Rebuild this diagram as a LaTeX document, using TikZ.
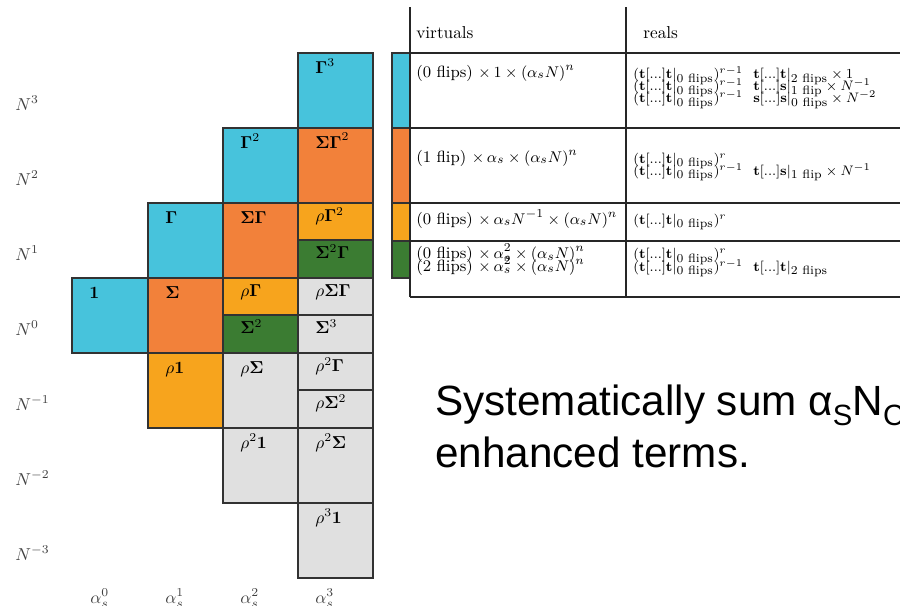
\documentclass[tikz,border=0pt]{standalone}
\usepackage{amsmath}
\usepackage[no-math]{fontspec}
\newfontfamily\arialfont{Liberation Sans}
\definecolor{cyanbox}{RGB}{71,195,220}
\definecolor{orangebox}{RGB}{242,129,58}
\definecolor{yellowbox}{RGB}{247,164,29}
\definecolor{greenbox}{RGB}{59,124,50}
\definecolor{greybox}{RGB}{224,224,224}
\definecolor{edge}{RGB}{50,50,50}
\newcommand{\flipsub}[1]{\text{\scriptsize #1}}
\newcommand{\tb}{\mathbf{t}}
\newcommand{\sbf}{\mathbf{s}}
\newcommand{\subcap}[1]{\raisebox{-6pt}{\fontsize{17}{18}\selectfont #1}}
\begin{document}
\begin{tikzpicture}[x=0.58pt,y=-0.58pt,
  cell/.style={draw=edge,line width=0.7pt},
  lbl/.style={anchor=base west,inner sep=0pt,font=\normalsize},
  axl/.style={anchor=base west,inner sep=0pt,text=black!75},
  tline/.style={draw=black!85,line width=0.6pt},
  head/.style={anchor=base west,inner sep=0pt},
  virt/.style={anchor=base west,inner sep=0pt,font=\fontsize{9.4}{11}\selectfont},
  real/.style={anchor=base west,inner sep=0pt,font=\footnotesize},
  big/.style={anchor=base west,inner sep=0pt,font=\arialfont\fontsize{24.5}{30}\selectfont}]
\useasboundingbox (0,0) rectangle (900,605);
\clip (0,0) rectangle (900,605);
% ---- grid of cells
\path[cell,fill=cyanbox] (72,278) rectangle (148,353);
\path[cell,fill=cyanbox] (148,203) rectangle (223,278);
\path[cell,fill=orangebox] (148,278) rectangle (223,353);
\path[cell,fill=yellowbox] (148,353) rectangle (223,428);
\path[cell,fill=cyanbox] (223,128) rectangle (298,203);
\path[cell,fill=orangebox] (223,203) rectangle (298,278);
\path[cell,fill=yellowbox] (223,278) rectangle (298,315);
\path[cell,fill=greenbox] (223,315) rectangle (298,353);
\path[cell,fill=greybox] (223,353) rectangle (298,428);
\path[cell,fill=greybox] (223,428) rectangle (298,503);
\path[cell,fill=cyanbox] (298,53) rectangle (373,128);
\path[cell,fill=orangebox] (298,128) rectangle (373,203);
\path[cell,fill=yellowbox] (298,203) rectangle (373,240);
\path[cell,fill=greenbox] (298,240) rectangle (373,278);
\path[cell,fill=greybox] (298,278) rectangle (373,315);
\path[cell,fill=greybox] (298,315) rectangle (373,353);
\path[cell,fill=greybox] (298,353) rectangle (373,390);
\path[cell,fill=greybox] (298,390) rectangle (373,428);
\path[cell,fill=greybox] (298,428) rectangle (373,503);
\path[cell,fill=greybox] (298,503) rectangle (373,578);
% ---- cell labels
\node[lbl] (c1) at (89,298) {$\mathbf{1}$};
\node[lbl] (cG) at (165,223) {$\mathbf{\Gamma}$};
\node[lbl] (cS) at (165,298) {$\mathbf{\Sigma}$};
\node[lbl] (cr1) at (165,373) {$\rho\mathbf{1}$};
\node[lbl] (cGG) at (240,148) {$\mathbf{\Gamma}^2$};
\node[lbl] (cSG) at (240,223) {$\mathbf{\Sigma\Gamma}$};
\node[lbl] (crG) at (240,296.5) {$\rho\mathbf{\Gamma}$};
\node[lbl] (cSS) at (240,333.5) {$\mathbf{\Sigma}^2$};
\node[lbl] (crS) at (240,373) {$\rho\mathbf{\Sigma}$};
\node[lbl] (crr1) at (240,448) {$\rho^2\mathbf{1}$};
\node[lbl] (cGGG) at (315,73) {$\mathbf{\Gamma}^3$};
\node[lbl] (cSGG) at (315,148) {$\mathbf{\Sigma\Gamma}^2$};
\node[lbl] (crGG) at (315,221.5) {$\rho\mathbf{\Gamma}^2$};
\node[lbl] (cSSG) at (315,258.5) {$\mathbf{\Sigma}^2\mathbf{\Gamma}$};
\node[lbl] (crSG) at (315,296.5) {$\rho\mathbf{\Sigma\Gamma}$};
\node[lbl] (cSSS) at (315,333.5) {$\mathbf{\Sigma}^3$};
\node[lbl] (crrG) at (315,371.5) {$\rho^2\mathbf{\Gamma}$};
\node[lbl] (crSS) at (315,408.5) {$\rho\mathbf{\Sigma}^2$};
\node[lbl] (crrS) at (315,448) {$\rho^2\mathbf{\Sigma}$};
\node[lbl] (crrr1) at (315,523) {$\rho^3\mathbf{1}$};
% ---- axis labels
\node[axl] (N3) at (15,110) {$N^3$};
\node[axl] (N2) at (15,185) {$N^2$};
\node[axl] (N1) at (15,260) {$N^1$};
\node[axl] (N0) at (15,335) {$N^0$};
\node[axl] (Nm1) at (15,410) {$N^{-1}$};
\node[axl] (Nm2) at (15,485) {$N^{-2}$};
\node[axl] (Nm3) at (15,560) {$N^{-3}$};
\node[axl] (a0) at (90,603) {$\alpha_s^0$};
\node[axl] (a1) at (165,603) {$\alpha_s^1$};
\node[axl] (a2) at (240,603) {$\alpha_s^2$};
\node[axl] (a3) at (315,603) {$\alpha_s^3$};
% ---- table colour strips
\path[cell,fill=cyanbox] (392,53) rectangle (410,128);
\path[cell,fill=orangebox] (392,128) rectangle (410,203);
\path[cell,fill=yellowbox] (392,203) rectangle (410,241);
\path[cell,fill=greenbox] (392,241) rectangle (410,278);
% ---- table rules
\draw[tline] (410,7) -- (410,297);
\draw[tline] (626,7) -- (626,297);
\draw[tline] (410,53) -- (900,53);
\draw[tline] (410,128) -- (900,128);
\draw[tline] (410,203) -- (900,203);
\draw[tline] (410,241) -- (900,241);
\draw[tline] (410,297) -- (900,297);
% ---- table text
\node[head] (hv) at (416,38) {virtuals};
\node[head] (hr) at (643,38) {reals};
\node[virt] (v1) at (416,77) {(0 flips) $\times\, 1 \times (\alpha_s N)^n$};
\node[real] (r1a) at (633,78.5) {$(\tb[...]\tb|_{\flipsub{0 flips}})^{r-1}\hspace{6pt}\tb[...]\tb|_{\flipsub{2 flips}}\times 1$};
\node[real] (r1b) at (633,90.5) {$(\tb[...]\tb|_{\flipsub{0 flips}})^{r-1}\hspace{6pt}\tb[...]\sbf|_{\flipsub{1 flip}}\times N^{-1}$};
\node[real] (r1c) at (633,102.5) {$(\tb[...]\tb|_{\flipsub{0 flips}})^{r-1}\hspace{6pt}\sbf[...]\sbf|_{\flipsub{0 flips}}\times N^{-2}$};
\node[virt] (v2) at (416,162) {(1 flip) $\times\,\alpha_s \times (\alpha_s N)^n$};
\node[real] (r2a) at (633,163) {$(\tb[...]\tb|_{\flipsub{0 flips}})^{r}$};
\node[real] (r2b) at (633,175) {$(\tb[...]\tb|_{\flipsub{0 flips}})^{r-1}\hspace{6pt}\tb[...]\sbf|_{\flipsub{1 flip}}\times N^{-1}$};
\node[virt] (v3) at (416,224) {(0 flips) $\times\,\alpha_s N^{-1} \times (\alpha_s N)^n$};
\node[real] (r3a) at (633,224) {$(\tb[...]\tb|_{\flipsub{0 flips}})^{r}$};
\node[virt] (v4a) at (416,258.5) {(0 flips) $\times\,\alpha_s^2 \times (\alpha_s N)^n$};
\node[virt] (v4b) at (416,271) {(2 flips) $\times\,\alpha_s^2 \times (\alpha_s N)^n$};
\node[real] (r4a) at (633,258.5) {$(\tb[...]\tb|_{\flipsub{0 flips}})^{r}$};
\node[real] (r4b) at (633,271) {$(\tb[...]\tb|_{\flipsub{0 flips}})^{r-1}\hspace{6pt}\tb[...]\tb|_{\flipsub{2 flips}}$};
% ---- big caption
\node[big] (t1) at (435,415) {Systematically sum α\subcap{S}N\subcap{C}};
\node[big] (t2) at (435,467) {enhanced terms.};
\end{tikzpicture}
\end{document}
